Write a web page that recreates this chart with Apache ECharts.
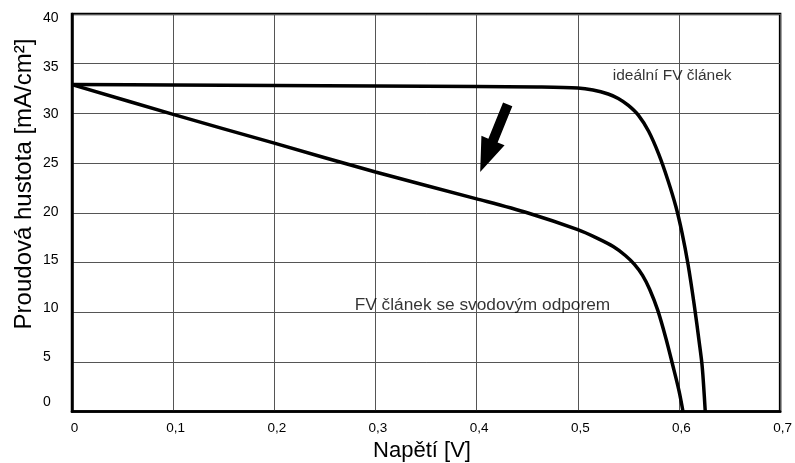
<!DOCTYPE html>
<html>
<head>
<meta charset="utf-8">
<script src="https://cdn.jsdelivr.net/npm/echarts@6/dist/echarts.min.js"></script>
<style>
html,body{margin:0;padding:0;background:#fff;}
#chart{width:795px;height:463px;}
</style>
</head>
<body>
<div id="chart"></div>
<script>
// Voltage [V] and current density [mA/cm2]
const idealV = [0, 0.1, 0.2, 0.3, 0.4, 0.46, 0.5, 0.515, 0.53, 0.54, 0.55, 0.56, 0.57, 0.58, 0.589, 0.597, 0.603, 0.609, 0.615, 0.62, 0.623, 0.626];
const idealJ = [32.9, 32.85, 32.8, 32.75, 32.7, 32.65, 32.55, 32.35, 31.95, 31.5, 30.8, 29.8, 28.2, 25.9, 23.3, 20.6, 18.0, 14.8, 10.8, 7.0, 4.5, 0];

const leakV = [0, 0.1, 0.2, 0.3, 0.4, 0.45, 0.5, 0.52, 0.535, 0.547, 0.556, 0.564, 0.571, 0.579, 0.587, 0.594, 0.6, 0.604];
const leakJ = [32.9, 29.9, 27.0, 24.1, 21.4, 20.0, 18.3, 17.4, 16.6, 15.7, 14.8, 13.7, 12.3, 10.2, 7.4, 4.6, 2.1, 0];

// arrow: tail (V, J) -> tip (V, J)
const arrowTail = [0.4307, 30.9];
const arrowTip = [0.4035, 24.1];

// annotations
const noteText = ['ideální FV článek', 'FV článek se svodovým odporem'];
const noteV = [0.5345, 0.2795];
const noteJ = [33.75, 10.7];

const xTicks = [0, 0.1, 0.2, 0.3, 0.4, 0.5, 0.6, 0.7];
const yTicks = [0, 5, 10, 15, 20, 25, 30, 35, 40];

const xTitle = 'Napětí [V]';
const yTitle = 'Proudová hustota [mA/cm²]';

const zip = (a, b) => a.map((v, i) => [v, b[i]]);

// small vertical shifts of y tick labels as in the reference
const yShift = {40: 4, 35: 3, 30: 1, 25: 0, 20: -1, 15: -2, 10: -4, 5: -5, 0: -9};
const yRich = {};
yTicks.forEach(t => {
  const s = yShift[t];
  yRich['s' + t] = {
    fontFamily: 'Liberation Sans', fontSize: 14, color: '#000',
    padding: s >= 0 ? [2 * s, 0, 0, 0] : [0, 0, -2 * s, 0]
  };
});

const chart = echarts.init(document.getElementById('chart'), null, {renderer: 'canvas'});

chart.setOption({
  animation: false,
  backgroundColor: '#fff',
  grid: {
    left: 72, right: 8, top: 14, bottom: 51.5,
    show: true, borderColor: '#000', borderWidth: 2.5, backgroundColor: 'transparent'
  },
  xAxis: {
    type: 'value', min: 0, max: 0.7, interval: 0.1,
    axisLine: {show: true, lineStyle: {color: '#000', width: 2.5}},
    axisTick: {show: false},
    splitLine: {show: true, lineStyle: {color: '#555', width: 1}},
    axisLabel: {
      margin: 10, fontFamily: 'Liberation Sans', fontSize: 13.5, color: '#000',
      padding: [0, 0, 0, 5],
      formatter: v => (Math.round(v * 10) === 0 ? '0' : (Math.round(v * 10) / 10).toFixed(1).replace('.', ','))
    }
  },
  yAxis: {
    type: 'value', min: 0, max: 40, interval: 5,
    axisLine: {show: true, lineStyle: {color: '#000', width: 2.5}},
    axisTick: {show: false},
    splitLine: {show: true, lineStyle: {color: '#555', width: 1}},
    axisLabel: {
      margin: 29, align: 'left',
      formatter: v => '{s' + v + '|' + v + '}',
      rich: yRich
    }
  },
  graphic: [
    {
      type: 'text', x: 422, y: 451,
      style: {text: xTitle, fontFamily: 'Liberation Sans', fontSize: 22, fill: '#000', align: 'center', verticalAlign: 'middle'}
    },
    {
      type: 'text', x: 24, y: 184, rotation: Math.PI / 2,
      style: {text: yTitle, fontFamily: 'Liberation Sans', fontSize: 24, fill: '#000', align: 'center', verticalAlign: 'middle'}
    }
  ],
  series: [
    {
      type: 'line', data: zip(idealV, idealJ), showSymbol: false, symbol: 'none',
      smooth: 0.3,
      lineStyle: {color: '#000', width: 3.5}, z: 5
    },
    {
      type: 'line', data: zip(leakV, leakJ), showSymbol: false, symbol: 'none',
      smooth: 0.3,
      lineStyle: {color: '#000', width: 3.5}, z: 5
    },
    {
      type: 'custom', coordinateSystem: 'cartesian2d', z: 6,
      data: [[arrowTail[0], arrowTail[1], arrowTip[0], arrowTip[1]]],
      encode: {x: [0, 2], y: [1, 3]},
      renderItem: function (params, api) {
        const p1 = api.coord([api.value(0), api.value(1)]);
        const p2 = api.coord([api.value(2), api.value(3)]);
        const dx = p2[0] - p1[0], dy = p2[1] - p1[1];
        const len = Math.hypot(dx, dy);
        const ux = dx / len, uy = dy / len, nx = -uy, ny = ux;
        const sw = 10, hw = 25, hl = 34;
        const bx = p2[0] - ux * hl, by = p2[1] - uy * hl;
        const pts = [
          [p1[0] + nx * sw / 2, p1[1] + ny * sw / 2],
          [bx + nx * sw / 2, by + ny * sw / 2],
          [bx + nx * hw / 2, by + ny * hw / 2],
          [p2[0], p2[1]],
          [bx - nx * hw / 2, by - ny * hw / 2],
          [bx - nx * sw / 2, by - ny * sw / 2],
          [p1[0] - nx * sw / 2, p1[1] - ny * sw / 2]
        ];
        return {type: 'polygon', shape: {points: pts}, style: {fill: '#000'}};
      }
    },
    {
      type: 'scatter', symbolSize: 0, z: 7,
      data: noteText.map((t, i) => ({
        value: [noteV[i], noteJ[i]],
        name: t,
        label: {fontSize: i === 0 ? 15.5 : 17.3}
      })),
      label: {
        show: true, position: 'right', distance: 0,
        formatter: p => p.name,
        fontFamily: 'Liberation Sans', color: '#000', verticalAlign: 'middle'
      },
      emphasis: {disabled: true}
    }
  ]
});
</script>
</body>
</html>
